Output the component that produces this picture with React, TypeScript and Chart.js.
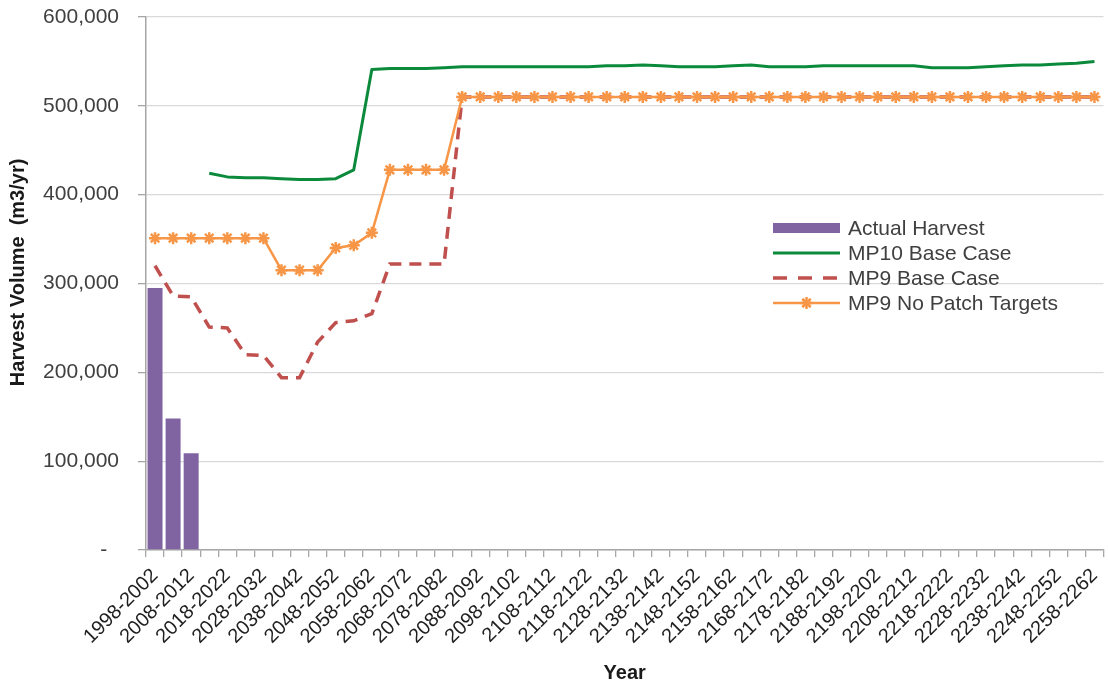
import React, { useEffect, useRef } from 'react';
import { Chart, registerables } from 'chart.js';
import { drawPoint } from 'chart.js/helpers';

Chart.register(...registerables);

const FONT = "'Liberation Sans', Arial, sans-serif";

// Five-year planning periods
const periods = [
  '1998-2002', '2003-2007', '2008-2012', '2013-2017', '2018-2022', '2023-2027',
  '2028-2032', '2033-2037', '2038-2042', '2043-2047', '2048-2052', '2053-2057',
  '2058-2062', '2063-2067', '2068-2072', '2073-2077', '2078-2082', '2083-2087',
  '2088-2092', '2093-2097', '2098-2102', '2103-2107', '2108-2112', '2113-2117',
  '2118-2122', '2123-2127', '2128-2132', '2133-2137', '2138-2142', '2143-2147',
  '2148-2152', '2153-2157', '2158-2162', '2163-2167', '2168-2172', '2173-2177',
  '2178-2182', '2183-2187', '2188-2192', '2193-2197', '2198-2202', '2203-2207',
  '2208-2212', '2213-2217', '2218-2222', '2223-2227', '2228-2232', '2233-2237',
  '2238-2242', '2243-2247', '2248-2252', '2253-2257', '2258-2262',
];

// Harvest volumes (m3/yr)
const actualHarvest = [295000, 148000, 109000];

const mp10BaseCase = [
  null, null, null, 424000, 420000, 419000, 419000, 418000, 417000, 417000,
  418000, 428000, 541000, 542000, 542000, 542000, 543000, 544000, 544000, 544000,
  544000, 544000, 544000, 544000, 544000, 545000, 545000, 546000, 545000, 544000,
  544000, 544000, 545000, 546000, 544000, 544000, 544000, 545000, 545000, 545000,
  545000, 545000, 545000, 543000, 543000, 543000, 544000, 545000, 546000, 546000,
  547000, 548000, 550000,
];

const mp9BaseCase = [
  320000, 286000, 285000, 251000, 250000, 220000, 219000, 194000, 194000, 234000,
  256000, 258000, 266000, 322000, 322000, 322000, 322000, 510000, 510000, 510000,
  510000, 510000, 510000, 510000, 510000, 510000, 510000, 510000, 510000, 510000,
  510000, 510000, 510000, 510000, 510000, 510000, 510000, 510000, 510000, 510000,
  510000, 510000, 510000, 510000, 510000, 510000, 510000, 510000, 510000, 510000,
  510000, 510000, 510000,
];

const mp9NoPatchTargets = [
  351000, 351000, 351000, 351000, 351000, 351000, 351000, 315000, 315000, 315000,
  340000, 343000, 357000, 428000, 428000, 428000, 428000, 510000, 510000, 510000,
  510000, 510000, 510000, 510000, 510000, 510000, 510000, 510000, 510000, 510000,
  510000, 510000, 510000, 510000, 510000, 510000, 510000, 510000, 510000, 510000,
  510000, 510000, 510000, 510000, 510000, 510000, 510000, 510000, 510000, 510000,
  510000, 510000, 510000,
];

const legendOrder = [0, 1, 2, 3];

// Legend drawn inside the plot, to the right of the curves
const insideLegend = {
  id: 'insideLegend',
  afterDraw(chart: any, _args: any, opts: any) {
    const ctx = chart.ctx as CanvasRenderingContext2D;
    const { x, y, rowHeight, sampleWidth, gap, order, legendDash } = opts;
    ctx.save();
    order.forEach((dsIndex: number, row: number) => {
      const ds = chart.data.datasets[dsIndex];
      const cy = y + row * rowHeight;
      if (ds.type === 'line') {
        ctx.beginPath();
        ctx.strokeStyle = ds.borderColor;
        ctx.lineWidth = ds.borderWidth;
        ctx.setLineDash(ds.borderDash ? legendDash : []);
        ctx.moveTo(x, cy);
        ctx.lineTo(x + sampleWidth, cy);
        ctx.stroke();
        ctx.setLineDash([]);
        if (ds.pointRadius > 0) {
          ctx.strokeStyle = ds.pointBorderColor;
          ctx.fillStyle = ds.pointBackgroundColor;
          ctx.lineWidth = ds.pointBorderWidth;
          drawPoint(ctx, { pointStyle: ds.pointStyle, radius: ds.pointRadius, rotation: 0, borderWidth: ds.pointBorderWidth } as any, x + sampleWidth / 2, cy);
        }
      } else {
        ctx.fillStyle = ds.backgroundColor;
        ctx.fillRect(x, cy - 5, sampleWidth, 10);
      }
      ctx.fillStyle = '#404040';
      ctx.font = `21px ${FONT}`;
      ctx.textAlign = 'left';
      ctx.textBaseline = 'middle';
      ctx.fillText(ds.label, x + sampleWidth + gap, cy + 1);
    });
    ctx.restore();
  },
};

export default function App() {
  const canvasRef = useRef<HTMLCanvasElement>(null);

  useEffect(() => {
    document.body.style.margin = '0';
    document.body.style.overflow = 'hidden';
    const canvas = canvasRef.current;
    if (!canvas) return;

    const chart = new Chart(canvas, {
      type: 'bar',
      data: {
        labels: periods,
        datasets: [
          {
            type: 'bar',
            label: 'Actual Harvest',
            data: actualHarvest,
            backgroundColor: '#8064A2',
            barPercentage: 0.83,
            categoryPercentage: 1.0,
            order: 3,
          },
          {
            type: 'line',
            label: 'MP10 Base Case',
            data: mp10BaseCase,
            borderColor: '#0C8A3C',
            backgroundColor: '#0C8A3C',
            borderWidth: 3,
            borderJoinStyle: 'round',
            pointRadius: 0,
            tension: 0,
            order: 2,
          },
          {
            type: 'line',
            label: 'MP9 Base Case',
            data: mp9BaseCase,
            borderColor: '#C0504D',
            backgroundColor: '#C0504D',
            borderWidth: 3.5,
            borderDash: [12, 8],
            pointRadius: 0,
            tension: 0,
            order: 1,
          },
          {
            type: 'line',
            label: 'MP9 No Patch Targets',
            data: mp9NoPatchTargets,
            borderColor: '#F79646',
            backgroundColor: '#F79646',
            borderWidth: 2.5,
            pointStyle: 'star',
            pointRadius: 6,
            pointBorderWidth: 2.5,
            pointBorderColor: '#F79646',
            pointBackgroundColor: '#F79646',
            tension: 0,
            order: 0,
          },
        ] as any,
      },
      options: {
        animation: false,
        responsive: false,
        devicePixelRatio: 1,
        layout: { padding: { top: 17, right: 2, left: 0, bottom: 0 } },
        plugins: {
          legend: { display: false },
          tooltip: { enabled: false },
          insideLegend: {
            x: 773,
            y: 228,
            rowHeight: 25,
            sampleWidth: 67,
            gap: 8,
            order: legendOrder,
            legendDash: [14, 11],
          },
        } as any,
        scales: {
          x: {
            offset: true,
            afterFit(scale: any) {
              scale.height = 135;
              scale.paddingLeft = 0;
              scale.paddingRight = 0;
            },
            grid: {
              display: true,
              offset: true,
              drawOnChartArea: false,
              drawTicks: true,
              tickLength: 7,
              color: '#A6A6A6',
              lineWidth: 1.3,
            },
            border: { display: true, color: '#A6A6A6', width: 1.5 },
            ticks: {
              autoSkip: false,
              minRotation: 45,
              maxRotation: 45,
              padding: 7,
              color: '#1f1f1f',
              font: { family: FONT, size: 20 },
              callback: (_v: any, index: number) => (index % 2 === 0 ? periods[index] : ''),
            },
            title: {
              display: true,
              text: 'Year',
              color: '#1a1a1a',
              font: { family: FONT, size: 20, weight: 'bold' },
              padding: { top: 0, bottom: 0 },
            },
          },
          y: {
            min: 0,
            max: 600000,
            afterFit(scale: any) {
              scale.width = 146;
              scale.paddingTop = 0;
              scale.paddingBottom = 0;
            },
            grid: {
              color: '#D9D9D9',
              lineWidth: 1.3,
              drawTicks: true,
              tickLength: 8,
              tickColor: '#A6A6A6',
            },
            border: { display: true, color: '#A6A6A6', width: 1.5 },
            ticks: {
              stepSize: 100000,
              padding: 19,
              color: '#404040',
              font: { family: FONT, size: 21 },
              callback: (v: any) => (Number(v) === 0 ? '-  ' : Number(v).toLocaleString('en-US')),
            },
            title: {
              display: true,
              text: '    Harvest Volume  (m3/yr)',
              color: '#1a1a1a',
              font: { family: FONT, size: 20, weight: 'bold' },
              padding: { top: 6, bottom: 0 },
            },
          },
        },
      } as any,
      plugins: [insideLegend],
    });

    return () => chart.destroy();
  }, []);

  return (
    <div style={{ position: 'fixed', left: 0, top: 0, width: 1112, height: 685, background: '#fff' }}>
      <canvas ref={canvasRef} width={1112} height={685} style={{ display: 'block' }} />
    </div>
  );
}
